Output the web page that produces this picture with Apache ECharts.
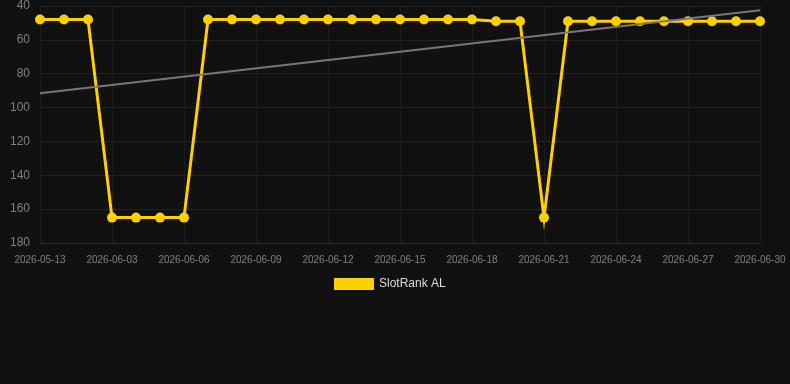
<!DOCTYPE html>
<html>
<head>
<meta charset="utf-8">
<style>
html,body{margin:0;padding:0;background:#111111;}
#chart{width:790px;height:384px;}
</style>
<script src="https://cdn.jsdelivr.net/npm/echarts@6/dist/echarts.min.js"></script>
</head>
<body>
<div id="chart"></div>
<script>
const categories = [
  "2026-05-13","2026-06-01","2026-06-02","2026-06-03","2026-06-04","2026-06-05","2026-06-06",
  "2026-06-07","2026-06-08","2026-06-09","2026-06-10","2026-06-11","2026-06-12","2026-06-13",
  "2026-06-14","2026-06-15","2026-06-16","2026-06-17","2026-06-18","2026-06-19","2026-06-20",
  "2026-06-21","2026-06-22","2026-06-23","2026-06-24","2026-06-25","2026-06-26","2026-06-27",
  "2026-06-28","2026-06-29","2026-06-30"
];
const slotRankValues = [
  48,48,48,165,165,165,165,
  48,48,48,48,48,48,48,
  48,48,48,48,48,49,49,
  165,49,49,49,49,49,49,
  49,49,49
];
const trendStart = 91.5;
const trendEnd = 42.5;
const yTicks = [40,60,80,100,120,140,160,180];

const chart = echarts.init(document.getElementById('chart'));
chart.setOption({
  backgroundColor: '#111111',
  animation: false,
  grid: {left: 40, right: 30, top: 6, bottom: 141},
  legend: {
    data: ['SlotRank AL'],
    top: 273,
    left: 329,
    itemWidth: 40,
    itemHeight: 12,
    icon: 'rect',
    textStyle: {color: '#dddddd', fontSize: 12, fontFamily: 'Arial, Liberation Sans, sans-serif'}
  },
  xAxis: {
    type: 'category',
    data: categories,
    boundaryGap: false,
    axisLine: {show: true, lineStyle: {color: '#2a2a2a'}},
    axisTick: {show: false},
    axisLabel: {interval: 2, color: '#808080', fontSize: 10, margin: 12, fontFamily: 'Arial, Liberation Sans, sans-serif'},
    splitLine: {show: true, interval: 2, lineStyle: {color: '#1c1c1c'}}
  },
  yAxis: {
    type: 'value',
    inverse: true,
    min: yTicks[0],
    max: yTicks[yTicks.length - 1],
    interval: 20,
    axisLine: {show: false},
    axisTick: {show: false},
    axisLabel: {color: '#808080', fontSize: 12, margin: 10, fontFamily: 'Arial, Liberation Sans, sans-serif'},
    splitLine: {show: true, lineStyle: {color: '#222222'}}
  },
  series: [
    {
      name: 'SlotRank AL',
      type: 'line',
      data: slotRankValues,
      color: '#ffd000',
      lineStyle: {width: 3, color: '#ffd000', join: 'miter'},
      itemStyle: {color: '#ffd000'},
      symbol: 'circle',
      symbolSize: 10,
      z: 3
    },
    {
      name: 'Trend',
      type: 'line',
      data: [[0, trendStart], [categories.length - 1, trendEnd]],
      symbol: 'none',
      lineStyle: {width: 2, color: '#777777'},
      itemStyle: {color: '#777777'},
      silent: true,
      z: 4
    }
  ]
});
</script>
</body>
</html>
